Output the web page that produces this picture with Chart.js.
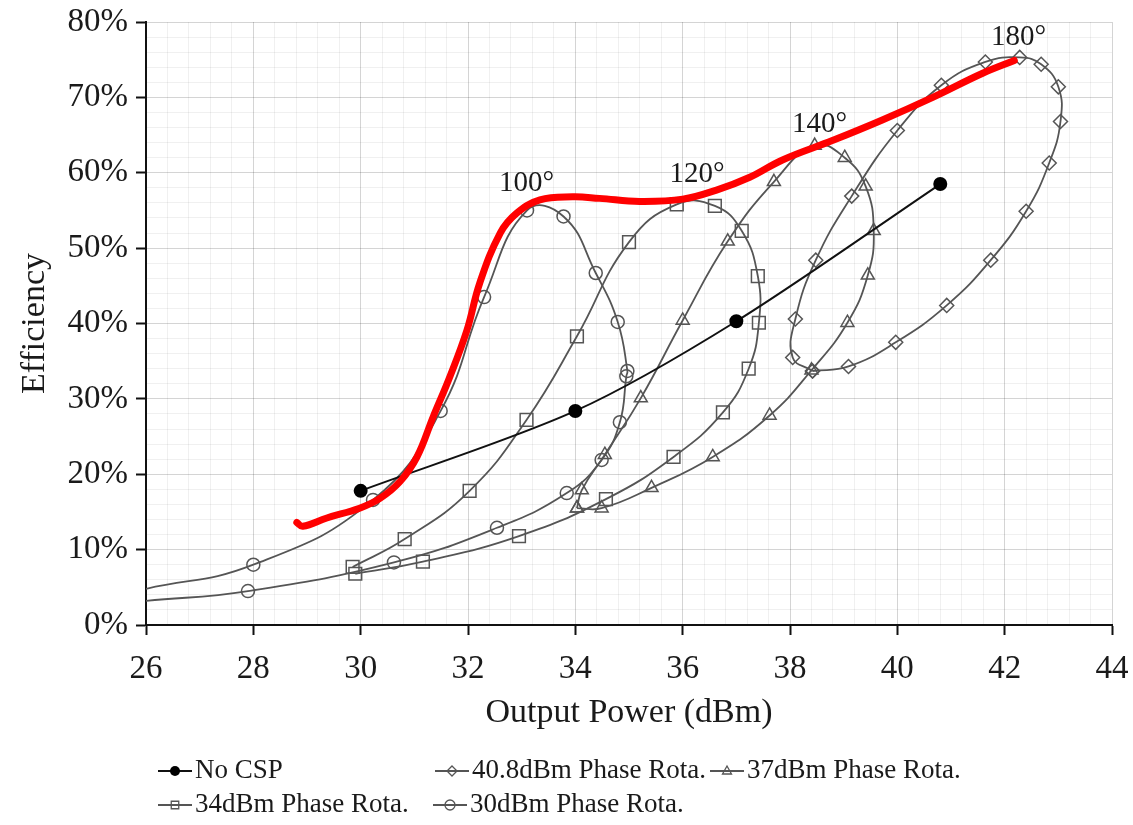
<!DOCTYPE html>
<html>
<head>
<meta charset="utf-8">
<title>Efficiency vs Output Power</title>
<script src="https://cdn.jsdelivr.net/npm/chart.js@4.4.1/dist/chart.umd.min.js"></script>
<style>
  html, body { margin: 0; padding: 0; background: #fff; }
  #wrap { position: relative; width: 1133px; height: 825px; }
</style>
</head>
<body>
<div id="wrap"><canvas id="eff-chart"></canvas></div>
<script>
// No CSP reference points
const noCspPower = [30, 34, 37, 40.8];
const noCspEff = [17.8, 28.4, 40.3, 58.5];

// 40.8dBm phase rotation loop (diamonds)
const rot408Power = [38.42, 38.05, 38.1, 38.48, 39.15, 40.0, 40.82, 41.64, 42.28, 42.68, 43.0, 43.04, 42.83, 42.4, 41.74, 40.92, 39.97, 39.09, 38.42];
const rot408Eff = [33.7, 35.5, 40.6, 48.4, 56.9, 65.6, 71.6, 74.7, 75.3, 74.4, 71.4, 66.8, 61.3, 54.9, 48.4, 42.4, 37.5, 34.3, 33.7];

// 37dBm phase rotation loop (triangles)
const rot37Power = [34.03, 34.12, 34.55, 35.22, 36.0, 36.84, 37.7, 38.46, 39.02, 39.41, 39.56, 39.45, 39.07, 38.4, 37.62, 36.56, 35.42, 34.49, 34.03];
const rot37Eff = [15.5, 17.9, 22.6, 30.1, 40.4, 50.9, 58.8, 63.6, 62.0, 58.2, 52.3, 46.4, 40.1, 33.8, 27.8, 22.3, 18.2, 15.5, 15.5];

// 34dBm phase rotation loop (squares)
const rot34Power = [29.85, 30.82, 32.03, 33.09, 34.03, 35.0, 35.89, 36.6, 37.1, 37.4, 37.42, 37.23, 36.75, 35.83, 34.57, 32.95, 31.16, 29.9];
const rot34Eff = [7.7, 11.4, 17.8, 27.2, 38.3, 50.8, 55.8, 55.6, 52.3, 46.3, 40.1, 34.0, 28.2, 22.3, 16.7, 11.8, 8.4, 6.8];

// 30dBm phase rotation loop (circles), both ends run off the left edge
const rot30Power = [26, 28.0, 30.23, 31.49, 32.3, 33.1, 33.78, 34.38, 34.79, 34.97, 34.95, 34.83, 34.49, 33.84, 32.54, 30.62, 27.9, 26];
const rot30Eff = [4.8, 8.0, 16.6, 28.4, 43.5, 55.0, 54.2, 46.7, 40.2, 33.7, 33.0, 26.9, 21.9, 17.5, 12.9, 8.3, 4.5, 3.2];

// hand-drawn red envelope over the loop peaks
const trendPower = [28.81, 28.92, 29.37, 29.98, 30.36, 30.73, 31.05, 31.35, 31.66, 31.98, 32.22, 32.6, 32.9, 33.34, 33.95, 34.45, 35.2, 36.0, 36.63, 37.25, 37.86, 38.8, 39.72, 40.66, 41.59, 42.18];
const trendEff = [13.6, 13.1, 14.2, 15.5, 16.8, 19.0, 22.3, 27.6, 32.9, 39.1, 45.4, 52.0, 54.6, 56.4, 56.8, 56.6, 56.2, 56.5, 57.7, 59.4, 61.7, 64.3, 67.0, 70.0, 73.2, 74.9];

// phase angle annotations
const angleText = ['100°', '120°', '140°', '180°'];
const anglePower = [33.09, 36.27, 38.55, 42.26];
const angleEff = [58.6, 59.8, 66.4, 78.0];

const SERIF = "'Liberation Serif', 'Times New Roman', serif";
const TEXT = '#1a1a1a';
const LOOP = '#555555';

function pts(xs, ys) {
    return xs.map((x, i) => ({ x: x, y: ys[i] }));
}

function isMajor(v, step) {
    const q = v / step;
    return Math.abs(q - Math.round(q)) < 1e-6;
}

function loopSet(label, xs, ys, shape, radius) {
    return {
        label: label,
        data: pts(xs, ys),
        showLine: true,
        borderColor: LOOP,
        borderWidth: 1.8,
        tension: 0.45,
        pointStyle: shape,
        pointRadius: c => (c.raw && c.raw.x <= 26 ? 0 : radius),
        pointBorderColor: LOOP,
        pointBackgroundColor: 'rgba(255,255,255,0)',
        pointBorderWidth: 1.5,
        order: 2
    };
}

// little marker painter for the legend
function drawMarker(ctx, shape, x, y, r) {
    ctx.beginPath();
    if (shape === 'circle') {
        ctx.arc(x, y, r, 0, Math.PI * 2);
    } else if (shape === 'rect') {
        ctx.rect(x - r * 0.75, y - r * 0.75, r * 1.5, r * 1.5);
    } else if (shape === 'rectRot') {
        ctx.moveTo(x, y - r);
        ctx.lineTo(x + r, y);
        ctx.lineTo(x, y + r);
        ctx.lineTo(x - r, y);
        ctx.closePath();
    } else if (shape === 'triangle') {
        ctx.moveTo(x, y - r);
        ctx.lineTo(x + r * 0.9, y + r * 0.6);
        ctx.lineTo(x - r * 0.9, y + r * 0.6);
        ctx.closePath();
    }
}

// Excel-style legend laid out in two rows under the axis title
const legendSlots = [
    { ds: 1, x: 158, y: 771 },
    { ds: 2, x: 435, y: 771 },
    { ds: 3, x: 710, y: 771 },
    { ds: 4, x: 158, y: 805 },
    { ds: 5, x: 433, y: 805 }
];

const bottomLegend = {
    id: 'bottomLegend',
    afterDraw(chart) {
        const ctx = chart.ctx;
        ctx.save();
        ctx.font = '27px ' + SERIF;
        ctx.textBaseline = 'middle';
        ctx.textAlign = 'left';
        legendSlots.forEach(slot => {
            const ds = chart.data.datasets[slot.ds];
            const col = ds.borderColor;
            ctx.strokeStyle = col;
            ctx.lineWidth = 2;
            ctx.beginPath();
            ctx.moveTo(slot.x, slot.y);
            ctx.lineTo(slot.x + 34, slot.y);
            ctx.stroke();
            drawMarker(ctx, ds.pointStyle, slot.x + 17, slot.y, 5);
            if (slot.ds === 1) {
                ctx.fillStyle = '#000';
                ctx.fill();
            } else {
                ctx.lineWidth = 1.3;
                ctx.stroke();
            }
            ctx.fillStyle = TEXT;
            ctx.fillText(ds.label, slot.x + 37, slot.y);
        });
        ctx.restore();
    }
};

// phase angle labels placed in data coordinates
const angleLabels = {
    id: 'angleLabels',
    afterDatasetsDraw(chart) {
        const ctx = chart.ctx;
        const xs = chart.scales.x;
        const ys = chart.scales.y;
        ctx.save();
        ctx.font = '29px ' + SERIF;
        ctx.fillStyle = TEXT;
        ctx.textAlign = 'center';
        ctx.textBaseline = 'middle';
        angleText.forEach((t, i) => {
            ctx.fillText(t, xs.getPixelForValue(anglePower[i]), ys.getPixelForValue(angleEff[i]));
        });
        ctx.restore();
    }
};

const majorGrid = 'rgba(0,0,0,0.17)';
const minorGrid = 'rgba(0,0,0,0.06)';

function createChart() {
    const ctx = document.getElementById('eff-chart').getContext('2d');

    new Chart(ctx, {
        type: 'scatter',
        data: {
            datasets: [
                {
                    label: 'Envelope',
                    data: pts(trendPower, trendEff),
                    showLine: true,
                    borderColor: '#ff0000',
                    borderWidth: 7,
                    borderCapStyle: 'round',
                    borderJoinStyle: 'round',
                    tension: 0.4,
                    pointRadius: 0,
                    order: 0
                },
                {
                    label: 'No CSP',
                    data: pts(noCspPower, noCspEff),
                    showLine: true,
                    borderColor: '#111111',
                    borderWidth: 2,
                    tension: 0.3,
                    pointStyle: 'circle',
                    pointRadius: 6,
                    pointBackgroundColor: '#000',
                    pointBorderColor: '#000',
                    order: 1
                },
                loopSet('40.8dBm Phase Rota.', rot408Power, rot408Eff, 'rectRot', 7),
                loopSet('37dBm Phase Rota.', rot37Power, rot37Eff, 'triangle', 7.5),
                loopSet('34dBm Phase Rota.', rot34Power, rot34Eff, 'rect', 9),
                loopSet('30dBm Phase Rota.', rot30Power, rot30Eff, 'circle', 6.5)
            ]
        },
        options: {
            responsive: true,
            maintainAspectRatio: false,
            animation: false,
            events: [],
            layout: { padding: { left: 0, right: 21, top: 22, bottom: 92 } },
            plugins: {
                legend: { display: false },
                tooltip: { enabled: false }
            },
            scales: {
                x: {
                    type: 'linear',
                    min: 26,
                    max: 44,
                    ticks: {
                        stepSize: 0.4,
                        autoSkip: false,
                        maxRotation: 0,
                        padding: 15,
                        color: TEXT,
                        font: { family: SERIF, size: 33 },
                        callback: v => (isMajor(v, 2) ? String(Math.round(v)) : '')
                    },
                    grid: {
                        color: c => (isMajor(c.tick.value, 2) ? majorGrid : minorGrid),
                        tickColor: c => (isMajor(c.tick.value, 2) ? '#111' : 'rgba(0,0,0,0)'),
                        tickLength: 10,
                        tickWidth: 2
                    },
                    border: { color: '#111', width: 2 },
                    title: {
                        display: true,
                        text: 'Output Power (dBm)',
                        color: TEXT,
                        font: { family: SERIF, size: 34 },
                        padding: 0
                    },
                    afterFit: s => {
                        s.height = 108;
                        s.paddingLeft = 0;
                        s.paddingRight = 0;
                    }
                },
                y: {
                    type: 'linear',
                    min: 0,
                    max: 80,
                    ticks: {
                        stepSize: 2,
                        autoSkip: false,
                        padding: 8,
                        color: TEXT,
                        font: { family: SERIF, size: 33 },
                        callback: v => (isMajor(v, 10) ? Math.round(v) + '%' : '')
                    },
                    grid: {
                        color: c => (isMajor(c.tick.value, 10) ? majorGrid : minorGrid),
                        tickColor: c => (isMajor(c.tick.value, 10) ? '#111' : 'rgba(0,0,0,0)'),
                        tickLength: 10,
                        tickWidth: 2
                    },
                    border: { color: '#111', width: 2 },
                    title: {
                        display: true,
                        text: 'Efficiency',
                        color: TEXT,
                        font: { family: SERIF, size: 34 },
                        padding: { top: 15, bottom: 0 }
                    },
                    afterFit: s => {
                        s.width = 146;
                        s.paddingTop = 0;
                        s.paddingBottom = 0;
                    }
                }
            }
        },
        plugins: [angleLabels, bottomLegend]
    });
}

createChart();
</script>
</body>
</html>
